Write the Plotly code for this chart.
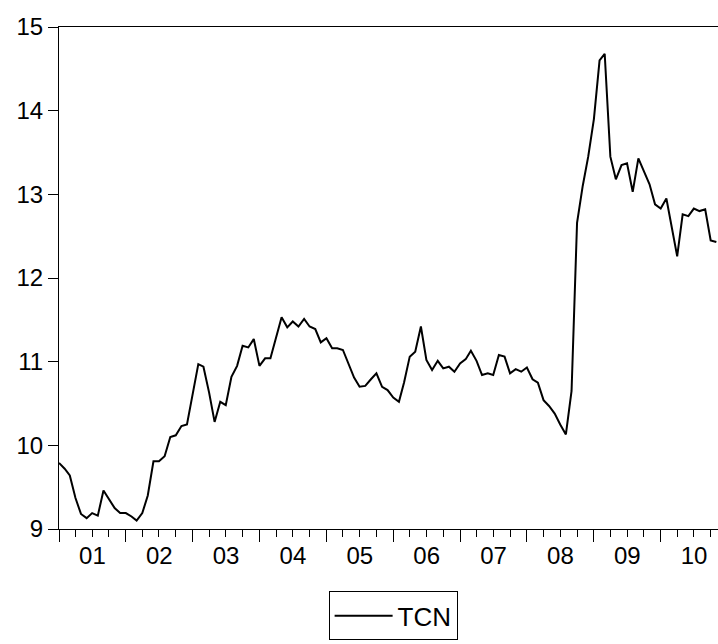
import pandas as pd
import plotly.graph_objects as go

# Monthly TCN series, 2001M01 onward
start_month = "2001-01-01"
tcn = [
    9.79, 9.72, 9.64, 9.37, 9.18, 9.13, 9.19, 9.16, 9.46, 9.36, 9.25, 9.19,
    9.19, 9.15, 9.10, 9.19, 9.40, 9.81, 9.81, 9.87, 10.10, 10.12, 10.23, 10.25,
    10.59, 10.97, 10.94, 10.63, 10.28, 10.52, 10.48, 10.82, 10.95, 11.19, 11.17, 11.27,
    10.95, 11.04, 11.04, 11.30, 11.53, 11.41, 11.48, 11.42, 11.51, 11.42, 11.39, 11.23,
    11.28, 11.16, 11.16, 11.14, 10.97, 10.81, 10.70, 10.71, 10.79, 10.86, 10.70, 10.66,
    10.57, 10.52, 10.75, 11.06, 11.12, 11.42, 11.02, 10.90, 11.01, 10.92, 10.94, 10.88,
    10.98, 11.03, 11.13, 11.01, 10.84, 10.86, 10.84, 11.08, 11.06, 10.86, 10.91, 10.88,
    10.93, 10.79, 10.75, 10.54, 10.47, 10.38, 10.25, 10.13, 10.65, 12.66, 13.10, 13.45,
    13.90, 14.60, 14.68, 13.45, 13.18, 13.35, 13.37, 13.03, 13.43, 13.27, 13.12, 12.88,
    12.83, 12.95, 12.62, 12.26, 12.76, 12.74, 12.83, 12.80, 12.82, 12.45, 12.43,
]
months = pd.date_range(start_month, periods=len(tcn), freq="MS")

y_ticks = [9, 10, 11, 12, 13, 14, 15]

font_family = "Liberation Sans, Arial, sans-serif"

fig = go.Figure()
fig.add_trace(
    go.Scatter(
        x=months,
        y=tcn,
        mode="lines",
        name="TCN",
        line=dict(color="black", width=2),
    )
)

fig.update_layout(
    width=718,
    height=644,
    margin=dict(l=59, r=0, t=27, b=115),
    paper_bgcolor="white",
    plot_bgcolor="white",
    font=dict(family=font_family, size=24, color="black"),
    showlegend=True,
    legend=dict(
        orientation="h",
        x=0.507,
        xanchor="center",
        y=-0.222,
        yanchor="bottom",
        bordercolor="black",
        borderwidth=1,
        bgcolor="white",
        itemwidth=58,
        font=dict(family=font_family, size=26, color="black"),
    ),
)

fig.update_xaxes(
    type="date",
    range=["2001-01-01", "2010-11-10"],
    tick0="2001-01-01",
    dtick="M12",
    tickformat="%y",
    ticklabelmode="period",
    ticklabelstandoff=-7,
    ticks="outside",
    ticklen=12,
    tickwidth=1,
    tickcolor="black",
    minor=dict(dtick="M3", ticks="outside", ticklen=7, tickwidth=1, tickcolor="black"),
    showgrid=False,
    showline=True,
    linecolor="black",
    linewidth=1,
    mirror=True,
    zeroline=False,
)

fig.update_yaxes(
    range=[9, 15],
    tickvals=y_ticks,
    ticks="outside",
    ticklen=10,
    tickwidth=1,
    tickcolor="black",
    showgrid=False,
    showline=True,
    linecolor="black",
    linewidth=1,
    zeroline=False,
)

fig.write_html("out.html")
